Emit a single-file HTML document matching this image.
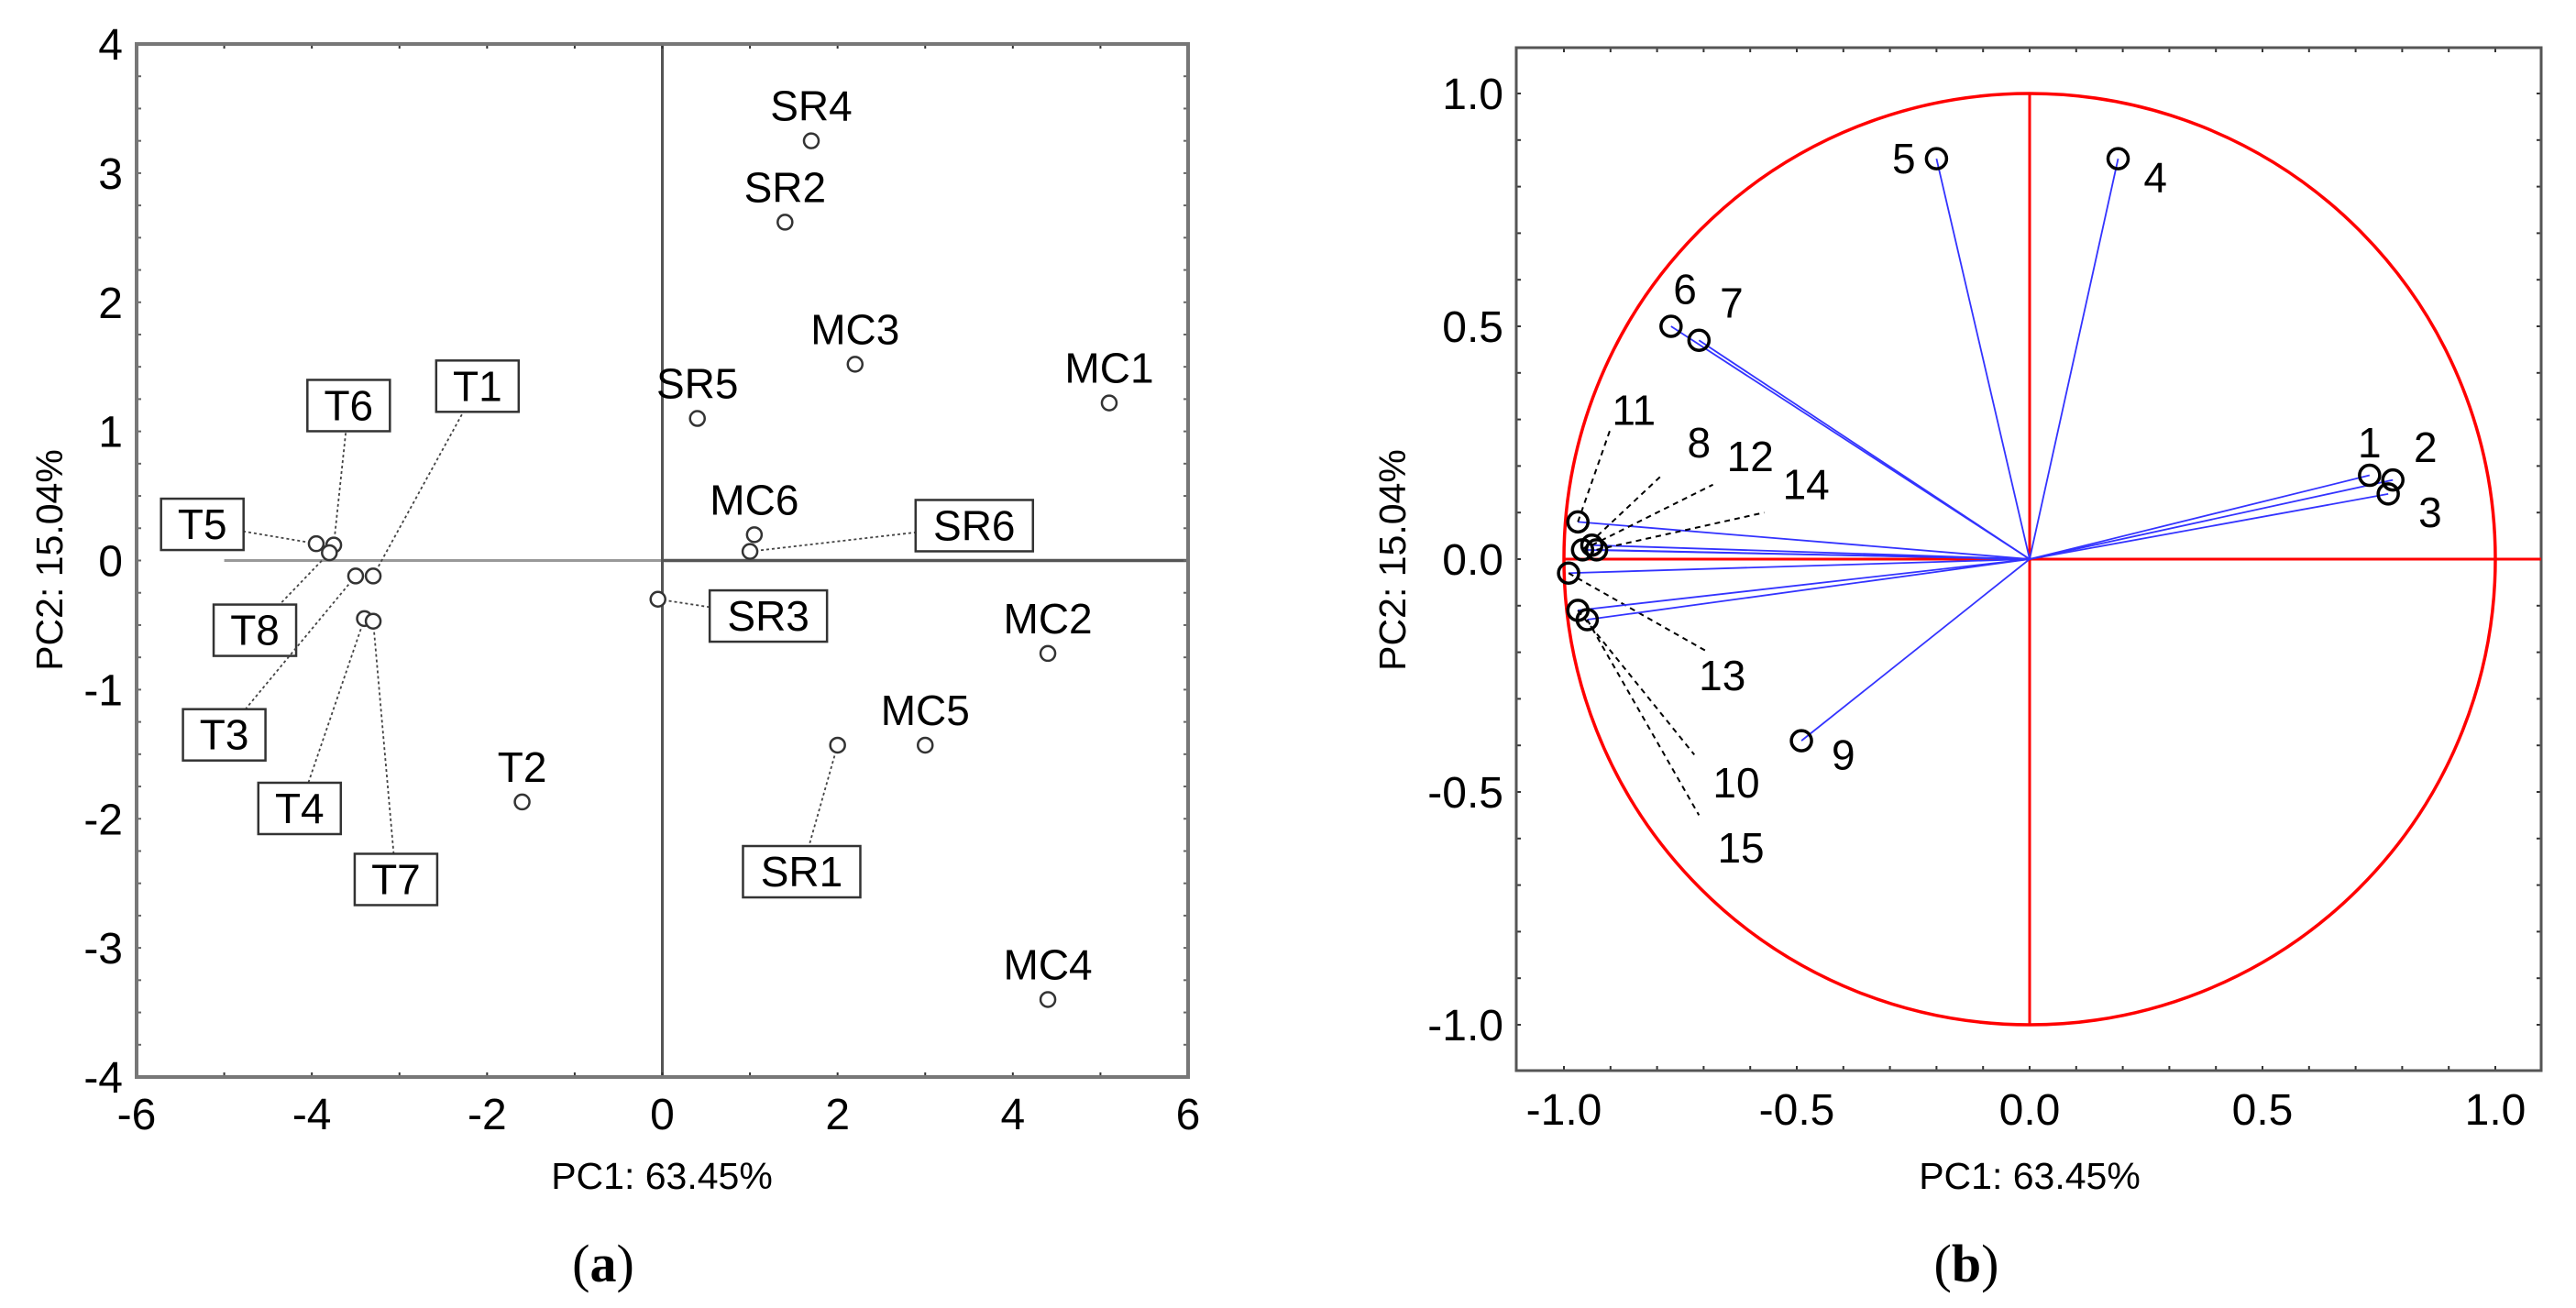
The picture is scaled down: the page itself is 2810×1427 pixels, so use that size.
<!DOCTYPE html>
<html><head><meta charset="utf-8"><style>
html,body{margin:0;padding:0;background:#fff;}
svg{display:block;font-family:"Liberation Sans",Arial,sans-serif;}
</style></head><body>
<svg id="fig" width="2810" height="1427" viewBox="0 0 2810 1427" xmlns="http://www.w3.org/2000/svg">
<g id="left"></g>
<g id="right"></g>
<text x="658" y="1398" font-family="Liberation Serif,serif" font-size="58" text-anchor="middle">(<tspan font-weight="bold">a</tspan>)</text>
<text x="2145" y="1398" font-family="Liberation Serif,serif" font-size="58" text-anchor="middle">(<tspan font-weight="bold">b</tspan>)</text>
</svg>
<script>
// ---- Score plot data (a)
const scoreNames = ["SR4","SR2","MC3","MC1","SR5","MC6","SR6","SR3","MC2","MC5","SR1","MC4","T2","T5","T6","T8","T3","T1","T4","T7"];
const scoreX = [1.7,1.4,2.2,5.1,0.4,1.05,1.0,-0.05,4.4,3.0,2.0,4.4,-1.6,-3.95,-3.75,-3.8,-3.5,-3.3,-3.4,-3.3];
const scoreY = [3.25,2.62,1.52,1.22,1.1,0.2,0.07,-0.3,-0.72,-1.43,-1.43,-3.4,-1.87,0.13,0.12,0.06,-0.12,-0.12,-0.45,-0.47];
const boxedNames = ["T1","T6","T5","T8","T3","T4","T7","SR6","SR3","SR1"];
const boxedLX = [-2.11,-3.58,-5.25,-4.65,-5.0,-4.14,-3.04,3.56,1.21,1.59];
const boxedLY = [1.35,1.20,0.28,-0.54,-1.35,-1.92,-2.47,0.27,-0.43,-2.41];
const scoreXTicks = [-6,-4,-2,0,2,4,6];
const scoreYTicks = [4,3,2,1,0,-1,-2,-3,-4];

// ---- Loading plot data (b)
const loadNames = ["1","2","3","4","5","6","7","9","11","8","12","14","13","10","15"];
const loadX = [0.73,0.78,0.77,0.19,-0.2,-0.77,-0.71,-0.49,-0.97,-0.96,-0.94,-0.93,-0.99,-0.97,-0.95];
const loadY = [0.18,0.17,0.14,0.86,0.86,0.5,0.47,-0.39,0.08,0.02,0.03,0.02,-0.03,-0.11,-0.13];
const loadLX = [0.73,0.85,0.86,0.27,-0.27,-0.74,-0.64,-0.40,-0.85,-0.71,-0.6,-0.48,-0.66,-0.63,-0.62];
const loadLY = [0.25,0.24,0.10,0.82,0.86,0.58,0.55,-0.42,0.32,0.25,0.22,0.16,-0.25,-0.48,-0.62];
const leaderX = [null,null,null,null,null,null,null,null,-0.9,-0.79,-0.68,-0.57,-0.69,-0.72,-0.71];
const leaderY = [null,null,null,null,null,null,null,null,0.28,0.18,0.16,0.10,-0.2,-0.42,-0.55];
const loadTicks = [-1.0,-0.5,0.0,0.5,1.0];
const loadTickLabels = ["-1.0","-0.5","0.0","0.5","1.0"];

const NS="http://www.w3.org/2000/svg";
function mk(parent,tag,attrs,text){const e=document.createElementNS(NS,tag);for(const k in attrs)e.setAttribute(k,attrs[k]);if(text!==undefined)e.textContent=text;parent.appendChild(e);return e;}

// ===== Left chart
const L=document.getElementById('left');
const lx0=149,lx1=1296,ly0=48,ly1=1175;
const sx=v=>lx0+(v+6)/12*(lx1-lx0);
const sy=v=>ly0+(4-v)/8*(ly1-ly0);
let e;
e=mk(L,'line',{x1:sx(-5),y1:sy(0),x2:sx(0),y2:sy(0),stroke:'#999',"stroke-width":3});


e=mk(L,'line',{x1:sx(0),y1:sy(0),x2:sx(6),y2:sy(0),stroke:'#555',"stroke-width":3.5});


e=mk(L,'line',{x1:sx(0),y1:ly0,x2:sx(0),y2:ly1,stroke:'#555',"stroke-width":3});


for(let t=-6;t<=6;t++){mk(L,'line',{x1:sx(t),y1:ly1,x2:sx(t),y2:ly1-5,stroke:'#333',"stroke-width":2});mk(L,'line',{x1:sx(t),y1:ly0,x2:sx(t),y2:ly0+5,stroke:'#333',"stroke-width":2});}
for(let t=-4;t<=4;t+=0.25){mk(L,'line',{x1:lx0,y1:sy(t),x2:lx0+5,y2:sy(t),stroke:'#666',"stroke-width":2});mk(L,'line',{x1:lx1,y1:sy(t),x2:lx1-5,y2:sy(t),stroke:'#666',"stroke-width":2});}
e=mk(L,'rect',{x:lx0,y:ly0,width:lx1-lx0,height:ly1-ly0,fill:'none',stroke:'#777',"stroke-width":4});


scoreXTicks.forEach(t=>{e=mk(L,'text',{x:sx(t),y:1232,"font-size":48,"text-anchor":"middle"},String(t));

});
scoreYTicks.forEach(t=>{e=mk(L,'text',{x:134,y:sy(t)+17,"font-size":48,"text-anchor":"end"},String(t));

});
e=mk(L,'text',{x:722,y:1297,"font-size":41,"text-anchor":"middle"},"PC1: 63.45%");


e=mk(L,'text',{x:68,y:611,"font-size":41,"text-anchor":"middle",transform:"rotate(-90 68 611)"},"PC2: 15.04%");


function rectHit(px,py,cx,cy,w,h){
  const dx=px-cx,dy=py-cy;
  const t=Math.min((w/2)/Math.abs(dx||1e-9),(h/2)/Math.abs(dy||1e-9));
  return [cx+dx*t,cy+dy*t];
}
scoreNames.forEach((n,i)=>{
  const px=sx(scoreX[i]),py=sy(scoreY[i]);
  const bi=boxedNames.indexOf(n);
  if(bi>=0){
    const cx=sx(boxedLX[bi]),cy=sy(boxedLY[bi]);
    const w=n.length>2?128:90,h=56;
    const bx0=cx-w/2,by0=cy-h/2;
    const p=rectHit(px,py,cx,cy,w,h);
    e=mk(L,'line',{x1:px,y1:py,x2:p[0],y2:p[1],stroke:'#444',"stroke-width":1.8,"stroke-dasharray":"3 3"});
    
    
    e=mk(L,'rect',{x:bx0,y:by0,width:w,height:h,fill:'#fff',stroke:'#333',"stroke-width":2.5});
    
    
    e=mk(L,'text',{x:cx,y:cy+16,"font-size":46,"text-anchor":"middle"},n);
    
    
  } else {
    e=mk(L,'text',{x:px,y:py-22,"font-size":46,"text-anchor":"middle"},n);
    
    
  }
});
scoreNames.forEach((n,i)=>{
  e=mk(L,'circle',{cx:sx(scoreX[i]),cy:sy(scoreY[i]),r:8,fill:'#fff',stroke:'#333',"stroke-width":2.5});
  
  
});

// ===== Right chart
const R=document.getElementById('right');
const rx0=1654,rx1=2772,ry0=52,ry1=1168;
const cx0=2214,cy0=610,sc=508;
const px=v=>cx0+v*sc, py=v=>cy0-v*sc;
for(let t=-1.0;t<=1.101;t+=0.1){const X=px(t);if(X<rx0||X>rx1)continue;mk(R,'line',{x1:X,y1:ry1,x2:X,y2:ry1-5,stroke:'#333',"stroke-width":2});mk(R,'line',{x1:X,y1:ry0,x2:X,y2:ry0+5,stroke:'#333',"stroke-width":2});}
for(let t=-1.1;t<=1.101;t+=0.1){const Y=py(t);if(Y<ry0||Y>ry1)continue;mk(R,'line',{x1:rx0,y1:Y,x2:rx0+5,y2:Y,stroke:'#333',"stroke-width":2});mk(R,'line',{x1:rx1,y1:Y,x2:rx1-5,y2:Y,stroke:'#333',"stroke-width":2});}
e=mk(R,'rect',{x:rx0,y:ry0,width:rx1-rx0,height:ry1-ry0,fill:'none',stroke:'#555',"stroke-width":3});


e=mk(R,'circle',{cx:cx0,cy:cy0,r:sc,fill:'none',stroke:'#f00',"stroke-width":3.5});


e=mk(R,'line',{x1:px(-1),y1:cy0,x2:rx1,y2:cy0,stroke:'#f00',"stroke-width":3});


e=mk(R,'line',{x1:cx0,y1:py(1),x2:cx0,y2:py(-1),stroke:'#f00',"stroke-width":3});


loadTicks.forEach((t,i)=>{
  e=mk(R,'text',{x:px(t),y:1227,"font-size":48,"text-anchor":"middle"},loadTickLabels[i]);
  
  
  e=mk(R,'text',{x:1640,y:py(t)+17,"font-size":48,"text-anchor":"end"},loadTickLabels[i]);
  
  
});
e=mk(R,'text',{x:2214,y:1297,"font-size":41,"text-anchor":"middle"},"PC1: 63.45%");


e=mk(R,'text',{x:1533,y:611,"font-size":41,"text-anchor":"middle",transform:"rotate(-90 1533 611)"},"PC2: 15.04%");


loadNames.forEach((n,i)=>{
  e=mk(R,'line',{x1:cx0,y1:cy0,x2:px(loadX[i]),y2:py(loadY[i]),stroke:'#33f',"stroke-width":1.8});
  
  
  if(leaderX[i]!==null){
    e=mk(R,'line',{x1:px(loadX[i]),y1:py(loadY[i]),x2:px(leaderX[i]),y2:py(leaderY[i]),stroke:'#000',"stroke-width":2,"stroke-dasharray":"6 5"});
    
    
  }
  e=mk(R,'text',{x:px(loadLX[i]),y:py(loadLY[i])+16,"font-size":46,"text-anchor":"middle"},n);
  
  
});
loadNames.forEach((n,i)=>{
  e=mk(R,'circle',{cx:px(loadX[i]),cy:py(loadY[i]),r:11,fill:'none',stroke:'#000',"stroke-width":3.5});
  
  
});
</script>
</body></html>
